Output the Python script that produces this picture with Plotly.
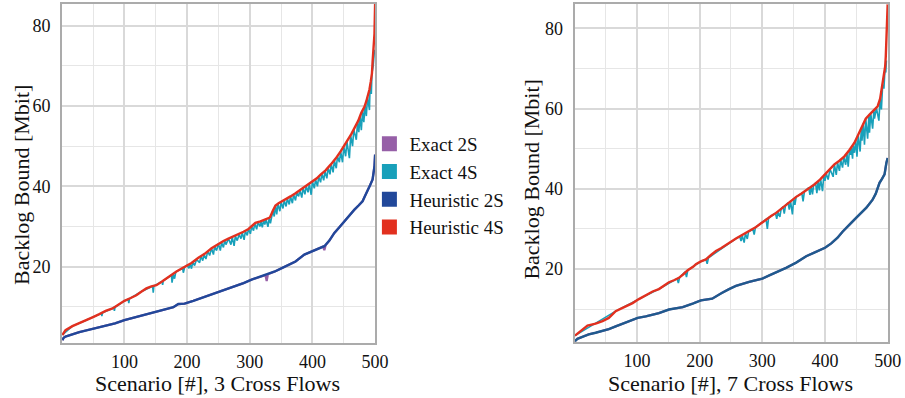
import plotly.graph_objects as go

# ---------------- data: left panel (3 cross flows) ----------------
L_h4_x = [1, 6, 17, 28, 38, 49, 60, 70, 81, 90, 100, 110, 119, 128, 135, 143, 151, 160, 167, 175,
          183, 192, 200, 207, 218, 228, 239, 250, 258, 266, 274, 282, 290, 298, 305, 309, 317, 325,
          332, 337, 341, 346, 352, 360, 365, 373, 381, 390, 400, 407, 413, 421, 429, 437, 445, 451,
          456, 462, 467, 473, 478, 483, 486, 489, 491, 493, 495, 496, 497, 498, 499, 500]
L_h4_y = [3.0, 4.2, 5.2, 5.9, 6.6, 7.4, 8.2, 9.0, 9.6, 10.5, 11.5, 12.2, 12.9, 13.9, 14.6, 15.1, 15.4,
          16.3, 17.1, 17.9, 18.8, 19.6, 20.3, 20.9, 22.2, 23.2, 24.6, 25.7, 26.4, 27.0, 27.5, 28.0,
          28.7, 29.4, 30.4, 30.9, 31.3, 31.7, 32.2, 34.0, 35.2, 35.8, 36.3, 37.0, 37.5, 38.3, 39.2,
          40.1, 41.2, 42.0, 42.9, 44.0, 45.4, 46.9, 48.7, 50.1, 51.6, 53.0, 54.5, 56.3, 58.3, 59.8,
          61.2, 62.8, 64.1, 66.0, 68.2, 71.0, 73.2, 74.9, 78.0, 85.4]

L_h2_x = [1, 3, 6, 17, 28, 38, 49, 60, 70, 85, 100, 112, 124, 138, 151, 165, 178, 186, 196, 210,
          223, 236, 250, 263, 276, 290, 303, 315, 327, 340, 352, 363, 373, 387, 400, 410, 419, 427,
          435, 443, 451, 459, 467, 474, 480, 485, 488, 492, 496, 498, 499, 500]
L_h2_y = [1.7, 2.3, 2.6, 3.2, 3.7, 4.1, 4.5, 4.9, 5.2, 5.9, 6.7, 7.2, 7.7, 8.2, 8.8, 9.3, 9.9, 10.7,
          10.8, 11.5, 12.2, 12.9, 13.6, 14.3, 15.1, 15.9, 16.8, 17.4, 18.0, 18.8, 19.7, 20.6, 21.3,
          23.0, 23.8, 24.5, 25.1, 26.5, 28.4, 29.8, 31.3, 32.8, 34.2, 35.3, 36.3, 38.0, 39.2, 40.3,
          41.7, 43.5, 45.0, 47.9]

L_e2_x = [1, 3, 6, 17, 28, 38, 49, 60, 70, 85, 100, 112, 124, 138, 151, 165, 178, 186, 196, 210,
          223, 236, 250, 263, 276, 290, 303, 315, 325, 327, 329, 340, 352, 363, 373, 387, 400, 410,
          417, 419, 421, 427, 435, 443, 451, 459, 467, 474, 480, 485, 488, 492, 496, 498, 499, 500]
L_e2_y = [1.7, 2.3, 2.6, 3.2, 3.7, 4.1, 4.5, 4.9, 5.2, 5.9, 6.7, 7.2, 7.7, 8.2, 8.8, 9.3, 9.9, 10.7,
          10.8, 11.5, 12.2, 12.9, 13.6, 14.3, 15.1, 15.9, 16.8, 17.4, 17.9, 16.4, 18.1, 18.8, 19.7,
          20.6, 21.3, 23.0, 23.8, 24.5, 25.0, 24.1, 25.3, 26.5, 28.4, 29.8, 31.3, 32.8, 34.2, 35.3,
          36.3, 38.0, 39.2, 40.3, 41.7, 43.5, 45.0, 47.9]

L_e4_x = [1, 17, 38, 60, 63, 64, 65, 81, 83, 84, 85, 100, 106, 107, 108, 128, 145, 146, 147, 160,
          161, 162, 175, 176, 178, 180, 182, 193, 194, 196, 200, 203, 205, 207, 209, 212, 215, 220,
          222, 225, 227, 230, 233, 236, 239, 242, 244, 247, 250, 253, 255, 258, 260, 262, 266, 270,
          272, 275, 277, 280, 283, 286, 288, 291, 293, 296, 298, 301, 303, 306, 308, 311, 313, 316,
          318, 320, 322, 324, 326, 329, 331, 333, 337, 339, 341, 343, 345, 348, 350, 353, 355, 358,
          360, 363, 365, 368, 370, 373, 375, 378, 380, 383, 385, 388, 390, 393, 395, 398, 400, 403,
          405, 408, 410, 413, 415, 418, 420, 423, 425, 428, 430, 433, 435, 438, 440, 443, 445, 448,
          450, 453, 455, 459, 461, 464, 466, 470, 472, 474, 476, 478, 480, 482, 484, 486, 488, 491,
          492, 494, 495, 497, 498, 499]
L_e4_y = [3.0, 5.2, 6.6, 8.2, 8.4, 7.7, 8.5, 9.6, 9.8, 9.0, 9.9, 11.5, 11.9, 10.9, 12.0, 13.9, 15.1,
          13.5, 15.2, 16.3, 15.5, 16.5, 17.9, 16.0, 18.1, 17.0, 18.7, 19.6, 18.5, 19.8, 20.3, 19.6,
          20.7, 19.5, 21.1, 20.3, 21.8, 21.0, 22.6, 21.5, 23.1, 21.9, 23.8, 22.8, 24.6, 23.0, 25.1,
          24.0, 25.7, 24.0, 26.0, 24.8, 26.5, 25.5, 27.0, 25.5, 27.4, 25.2, 27.6, 26.5, 28.0, 27.0,
          28.5, 26.7, 28.9, 27.8, 29.4, 28.2, 30.0, 29.0, 30.8, 29.3, 31.1, 30.0, 31.3, 29.8, 31.5,
          30.5, 31.8, 29.9, 32.1, 30.8, 34.0, 32.5, 35.2, 33.0, 35.7, 33.8, 36.1, 34.5, 36.5, 35.0,
          37.0, 35.5, 37.5, 35.8, 38.0, 36.5, 38.5, 37.5, 39.1, 37.2, 39.6, 38.0, 40.1, 38.5, 40.6,
          37.9, 41.2, 39.5, 41.7, 40.0, 42.4, 41.0, 43.2, 41.5, 43.8, 42.0, 44.6, 43.0, 45.6, 43.5,
          46.5, 44.5, 47.5, 46.0, 48.7, 46.0, 49.9, 47.5, 51.2, 47.0, 52.7, 50.0, 54.2, 51.6, 56.0,
          53.5, 57.5, 54.0, 58.8, 56.0, 60.2, 57.5, 62.3, 59.0, 65.0, 63.0, 68.2, 70.0, 72.0, 74.0]

# ---------------- data: right panel (7 cross flows) ----------------
R_h4_x = [1, 7, 13, 21, 34, 45, 55, 60, 66, 77, 85, 93, 103, 114, 125, 135, 143, 151, 159, 167,
          174, 181, 190, 194, 202, 210, 218, 226, 234, 242, 250, 258, 266, 274, 282, 290, 298, 306,
          314, 322, 330, 338, 346, 354, 362, 370, 383, 392, 400, 408, 415, 423, 431, 439, 447, 453,
          460, 465, 471, 478, 484, 488, 492, 494, 496, 497, 498, 499, 500]
R_h4_y = [3.4, 4.2, 4.9, 5.9, 6.4, 7.0, 7.8, 8.5, 9.5, 10.3, 10.9, 11.5, 12.5, 13.4, 14.4, 15.0,
          15.8, 16.7, 17.2, 17.8, 18.7, 19.7, 20.6, 21.2, 21.9, 22.4, 23.5, 24.5, 25.2, 25.9, 26.8,
          27.6, 28.3, 29.0, 29.8, 30.5, 31.4, 32.4, 33.2, 34.0, 35.0, 36.1, 37.1, 38.0, 38.8, 39.6,
          41.1, 42.3, 43.6, 44.9, 46.1, 47.0, 48.1, 49.7, 51.5, 53.5, 56.0, 57.5, 58.5, 59.6, 60.6,
          62.5, 66.0, 68.0, 70.5, 73.0, 77.2, 81.0, 86.0]

R_h2_x = [1, 5, 13, 23, 34, 45, 55, 66, 82, 92, 101, 114, 135, 151, 173, 189, 202, 220, 228, 236,
          247, 258, 279, 300, 311, 322, 338, 354, 362, 370, 383, 392, 400, 410, 420, 428, 436, 443,
          450, 458, 466, 471, 476, 481, 487, 491, 495, 498, 500]
R_h2_y = [2.0, 2.6, 3.1, 3.7, 4.1, 4.5, 5.0, 5.7, 6.6, 7.2, 7.8, 8.2, 9.0, 9.9, 10.5, 11.4, 12.2,
          12.6, 13.4, 14.1, 15.0, 15.8, 16.8, 17.6, 18.4, 19.1, 20.3, 21.6, 22.4, 23.2, 24.1, 24.7,
          25.3, 26.4, 27.8, 29.3, 30.7, 31.7, 32.8, 34.0, 35.3, 36.3, 37.3, 38.8, 41.5, 42.5, 43.6,
          46.5, 47.7]

# Exact 2S coincides with Heuristic 2S in the 7-cross-flow panel
R_e2_x = [1, 5, 13, 23, 34, 45, 55, 66, 82, 92, 101, 114, 135, 151, 173, 189, 202, 220, 228, 236,
          247, 258, 279, 300, 311, 322, 338, 354, 362, 370, 383, 392, 400, 410, 420, 428, 436, 443,
          450, 458, 466, 471, 476, 481, 487, 491, 495, 498, 500]
R_e2_y = [2.0, 2.6, 3.1, 3.7, 4.1, 4.5, 5.0, 5.7, 6.6, 7.2, 7.8, 8.2, 9.0, 9.9, 10.5, 11.4, 12.2,
          12.6, 13.4, 14.1, 15.0, 15.8, 16.8, 17.6, 18.4, 19.1, 20.3, 21.6, 22.4, 23.2, 24.1, 24.7,
          25.3, 26.4, 27.8, 29.3, 30.7, 31.7, 32.8, 34.0, 35.3, 36.3, 37.3, 38.8, 41.5, 42.5, 43.6,
          46.5, 47.7]

R_e4_x = [1, 34, 66, 103, 135, 164, 166, 168, 177, 179, 181, 202, 210, 212, 214, 258, 264, 266,
          268, 271, 273, 276, 278, 285, 287, 289, 306, 308, 310, 321, 323, 325, 328, 330, 333, 335,
          337, 341, 343, 345, 348, 350, 352, 354, 363, 365, 367, 374, 376, 378, 380, 382, 385, 387,
          389, 391, 393, 396, 398, 400, 402, 405, 408, 413, 415, 418, 420, 423, 425, 428, 430, 433,
          435, 437, 439, 441, 442, 444, 445, 447, 449, 451, 453, 456, 458, 459, 461, 463, 465, 468,
          470, 471, 473, 476, 478, 479, 482, 486, 488, 490, 492, 494, 496, 497, 498]
R_e4_y = [3.4, 6.4, 9.5, 12.5, 15.0, 17.6, 16.5, 17.9, 19.3, 18.0, 19.7, 21.9, 22.4, 21.3, 22.8,
          27.6, 28.1, 27.0, 28.3, 26.6, 28.9, 27.5, 29.3, 29.9, 28.6, 30.4, 32.4, 30.0, 32.8, 33.9,
          32.5, 34.2, 33.0, 35.0, 35.5, 33.8, 35.9, 36.5, 34.8, 37.0, 33.6, 37.5, 36.0, 38.0, 38.9,
          36.9, 39.2, 40.3, 38.5, 40.6, 38.6, 41.0, 41.4, 38.9, 41.9, 39.6, 42.4, 39.4, 43.2, 42.0,
          43.9, 42.3, 44.9, 43.0, 46.1, 43.5, 46.6, 44.5, 47.3, 45.3, 48.0, 46.0, 48.9, 45.5, 49.7,
          48.5, 50.2, 47.5, 50.8, 49.0, 52.2, 48.0, 53.5, 49.3, 55.2, 52.0, 56.3, 51.0, 57.5, 52.5,
          58.3, 54.0, 58.8, 55.0, 59.6, 57.5, 60.2, 57.0, 62.5, 59.8, 66.0, 65.0, 70.5, 69.0, 72.0]

series_names = ["Exact 2S", "Exact 4S", "Heuristic 2S", "Heuristic 4S"]
colors = ["#965fa7", "#18a0ba", "#21489a", "#e2301f"]
blue_right = "#1f5a8e"

x_ticks = [100, 200, 300, 400, 500]
y_ticks = [20, 40, 60, 80]
x_titles = ["Scenario [#], 3 Cross Flows", "Scenario [#], 7 Cross Flows"]
y_title = "Backlog Bound [Mbit]"

FONT = "Liberation Serif, DejaVu Serif, serif"
REF_W = 905          # layout positions below are given in reference-picture pixels
W, H = 919, 398

fig = go.Figure()

panels = [
    ("x", "y", L_e2_x, L_e2_y, L_e4_x, L_e4_y, L_h2_x, L_h2_y, L_h4_x, L_h4_y, colors[2]),
    ("x2", "y2", R_e2_x, R_e2_y, R_e4_x, R_e4_y, R_h2_x, R_h2_y, R_h4_x, R_h4_y, blue_right),
]
for xa, ya, e2x, e2y, e4x, e4y, h2x, h2y, h4x, h4y, bcol in panels:
    fig.add_trace(go.Scatter(x=e2x, y=e2y, mode="lines", line=dict(color=colors[0], width=2.2),
                             xaxis=xa, yaxis=ya, showlegend=False))
    fig.add_trace(go.Scatter(x=e4x, y=e4y, mode="lines", line=dict(color=colors[1], width=1.6),
                             xaxis=xa, yaxis=ya, showlegend=False))
    fig.add_trace(go.Scatter(x=h2x, y=h2y, mode="lines", line=dict(color=bcol, width=2.4),
                             xaxis=xa, yaxis=ya, showlegend=False))
    fig.add_trace(go.Scatter(x=h4x, y=h4y, mode="lines", line=dict(color=colors[3], width=2.4),
                             xaxis=xa, yaxis=ya, showlegend=False))

# legend entries (colour squares)
for name, col in zip(series_names, colors):
    fig.add_trace(go.Scatter(x=[None], y=[None], mode="markers", name=name,
                             marker=dict(symbol="square", size=15, color=col),
                             xaxis="x", yaxis="y"))

def x_axis(domain, rng):
    return dict(domain=domain, range=rng, tickmode="array", tickvals=x_ticks,
                showgrid=True, gridcolor="#d9d9d9", gridwidth=2,
                minor=dict(tickmode="array", tickvals=[50, 150, 250, 350, 450],
                           showgrid=True, gridcolor="#e6e6e6", gridwidth=1),
                showline=True, mirror=True, linecolor="#ababab", linewidth=2,
                zeroline=False, ticks="", ticklabelstandoff=1,
                tickfont=dict(family=FONT, size=18, color="#111"))

def y_axis(domain, rng, anchor):
    return dict(domain=domain, range=rng, anchor=anchor, tickmode="array", tickvals=y_ticks,
                showgrid=True, gridcolor="#d9d9d9", gridwidth=2,
                minor=dict(tickmode="array", tickvals=[10, 30, 50, 70],
                           showgrid=True, gridcolor="#e6e6e6", gridwidth=1),
                showline=True, mirror=True, linecolor="#ababab", linewidth=2,
                zeroline=False, ticks="", ticklabelstandoff=6,
                tickfont=dict(family=FONT, size=18, color="#111"))

fig.update_layout(
    width=W, height=H, margin=dict(l=0, r=0, t=0, b=0),
    paper_bgcolor="white", plot_bgcolor="white",
    xaxis=x_axis([62 / REF_W, 375 / REF_W], [0.5, 500.5]) | dict(anchor="y"),
    yaxis=y_axis([1 - 343 / H, 1 - 4 / H], [1.0, 85.4], "x"),
    xaxis2=x_axis([574 / REF_W, 887 / REF_W], [0.5, 500.5]) | dict(anchor="y2"),
    yaxis2=y_axis([1 - 342 / H, 1 - 4 / H], [1.8, 86.1], "x2"),
    legend=dict(x=369 / REF_W, y=1 - 125 / H, xanchor="left", yanchor="top",
                font=dict(family=FONT, size=19, color="#111"),
                bgcolor="rgba(0,0,0,0)", itemwidth=30, tracegroupgap=0),
    font=dict(family=FONT),
    showlegend=True,
)

annotations = [
    dict(text=x_titles[0], x=217 / REF_W, y=1 - 383 / H),
    dict(text=x_titles[1], x=730 / REF_W, y=1 - 383 / H),
    dict(text=y_title, x=22 / REF_W, y=1 - 185 / H, textangle=-90),
    dict(text=y_title, x=531 / REF_W, y=1 - 180 / H, textangle=-90),
]
for a in annotations:
    fig.add_annotation(xref="paper", yref="paper", showarrow=False, xanchor="center",
                       yanchor="middle", font=dict(family=FONT, size=22, color="#111"), **a)

fig.write_html(
    "out.html",
    config={"displayModeBar": False, "responsive": False},
    post_script=("document.documentElement.style.margin='0';"
                 "document.documentElement.style.overflow='hidden';"
                 "document.body.style.margin='0';document.body.style.padding='0';"
                 "document.body.style.overflow='hidden';"),
)
